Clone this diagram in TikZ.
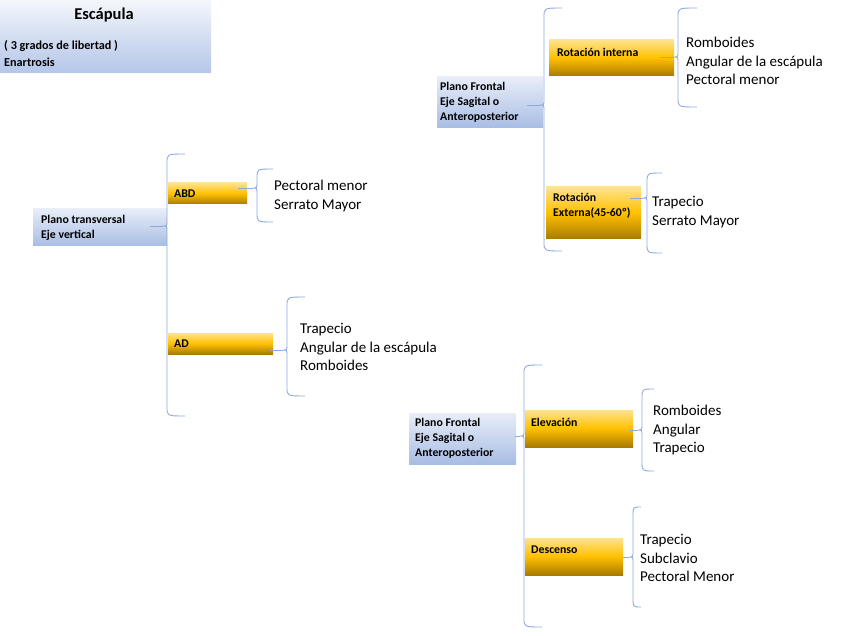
\documentclass[tikz,border=0pt]{standalone}
\usepackage{fontspec}
\setmainfont{Carlito}
\usetikzlibrary{calc}
\definecolor{bluetop}{HTML}{E8EDF8}
\definecolor{bluebot}{HTML}{A8BDE4}
\definecolor{titletop}{HTML}{F4F6FB}
\definecolor{titlebot}{HTML}{B4C6E8}
\definecolor{goldtop}{HTML}{FFE38C}
\definecolor{goldmid}{HTML}{FFC000}
\definecolor{goldbot}{HTML}{A87B00}
\definecolor{braceblue}{HTML}{8EAADC}
\newcommand{\mybrace}[5]{%
  \draw[bracestyle] (#5,#2) .. controls (#1,#2) .. (#1,#2+9) -- (#1,#4-6)
    .. controls (#1,#4) .. (#1-4,#4) .. controls (#1,#4) .. (#1,#4+6)
    -- (#1,#3-9) .. controls (#1,#3) .. (#5,#3);}
\begin{document}
\begin{tikzpicture}[x=1pt,y=-1pt,
  bluebox/.style={shading=axis, top color=bluetop, bottom color=bluebot, draw=none, inner sep=0pt, outer sep=0pt, anchor=north west},
  titlebox/.style={shading=axis, top color=titletop, bottom color=titlebot, draw=none, inner sep=0pt, outer sep=0pt, anchor=north west},
  goldbox/.style={shading=axis, top color=goldtop, bottom color=goldbot, middle color=goldmid, draw=none, inner sep=0pt, outer sep=0pt, anchor=north west},
  bracestyle/.style={draw=braceblue, line width=0.9pt},
  btext/.style={font=\bfseries\fontsize{11.8}{15}\selectfont, align=left, anchor=west, inner sep=0pt},
  leaf/.style={font=\fontsize{15}{18.5}\selectfont, align=left, anchor=west, inner sep=0pt}]
\useasboundingbox (0,0) rectangle (848,636);

% title
\node[titlebox, minimum width=211pt, minimum height=73pt] (title) at (0,0) {};
\node[font=\bfseries\fontsize{16.5}{18}\selectfont, inner sep=0pt] (tname) at (104,15) {Escápula};
\node[btext, font=\bfseries\fontsize{12.2}{17}\selectfont] (tsub) at (4,53.5) {( 3 grados de libertad )\\Enartrosis};

% left group
\node[bluebox, minimum width=134pt, minimum height=37pt] (pt) at (33,209) {};
\node[btext] (ptt) at (41,227.5) {Plano transversal\\Eje vertical};
\coordinate (t1) at (163,226);
\draw[bracestyle] ($(pt.east |- t1)+(-17,0)$) -- (t1);
\mybrace{167}{154}{416}{226}{185}

\node[goldbox, minimum width=79pt, minimum height=21pt] (abd) at (168,183) {};
\node[btext] (abdt) at (174,194) {ABD};
\coordinate (t2) at (253,188);
\draw[bracestyle] ($(abd.east |- t2)+(-9,0)$) -- (t2);
\mybrace{257}{169}{222}{188}{273}
\node[leaf] (l2) at (274,196) {Pectoral menor\\Serrato Mayor};

\node[goldbox, minimum width=105pt, minimum height=21pt] (ad) at (168,333) {};
\node[btext] (adt) at (174,344) {AD};
\coordinate (t3) at (283,350);
\draw[bracestyle] ($(ad.east |- t3)+(-3,0)$) -- (t3);
\mybrace{287}{297}{396}{350}{305}
\node[leaf] (l3) at (300,347) {Trapecio\\Angular de la escápula\\Romboides};

% top right group
\node[bluebox, minimum width=106pt, minimum height=51pt] (pf1) at (437,77) {};
\node[btext] (pf1t) at (440,102) {Plano Frontal\\Eje Sagital o\\Anteroposterior};
\coordinate (t4) at (540,105);
\draw[bracestyle] ($(pf1.east |- t4)+(-16,0)$) -- (t4);
\mybrace{544}{8}{251}{105}{562}

\node[goldbox, minimum width=125pt, minimum height=36pt] (ri) at (549,40) {};
\node[btext] (rit) at (557,52) {Rotación interna};
\coordinate (t5) at (674,57);
\draw[bracestyle] ($(ri.east |- t5)+(-14,0)$) -- (t5);
\mybrace{678}{8}{107}{57}{697}
\node[leaf] (l5) at (686,61) {Romboides\\Angular de la escápula\\Pectoral menor};

\node[goldbox, minimum width=95pt, minimum height=52pt] (re) at (546,187) {};
\node[btext] (ret) at (553,205.5) {Rotación\\Externa(45-60º)};
\coordinate (t6) at (643,198);
\draw[bracestyle] ($(re.east |- t6)+(-11,0)$) -- (t6);
\mybrace{647}{173}{253}{198}{662}
\node[leaf] (l6) at (652,212) {Trapecio\\Serrato Mayor};

% bottom group
\node[bluebox, minimum width=107pt, minimum height=51pt] (pf2) at (409,413) {};
\node[btext] (pf2t) at (415,438.5) {Plano Frontal\\Eje Sagital o\\Anteroposterior};
\coordinate (t7) at (520,436);
\draw[bracestyle] ($(pf2.east |- t7)+(-1,0)$) -- (t7);
\mybrace{524}{365}{627}{436}{542}

\node[goldbox, minimum width=108pt, minimum height=37pt] (el) at (525,410) {};
\node[btext] (elt) at (531,422) {Elevación};
\coordinate (t8) at (638,430);
\draw[bracestyle] ($(el.east |- t8)+(-3,0)$) -- (t8);
\mybrace{642}{389}{471}{430}{654}
\node[leaf] (l8) at (653,430) {Romboides\\Angular\\Trapecio};

\node[goldbox, minimum width=98pt, minimum height=37pt] (de) at (525,538) {};
\node[btext] (det) at (531,550) {Descenso};
\coordinate (t9) at (629,557);
\draw[bracestyle] ($(de.east |- t9)+(0,0)$) -- (t9);
\mybrace{633}{507}{607}{557}{641}
\node[leaf] (l9) at (640,558) {Trapecio\\Subclavio\\Pectoral Menor};
\end{tikzpicture}
\end{document}
